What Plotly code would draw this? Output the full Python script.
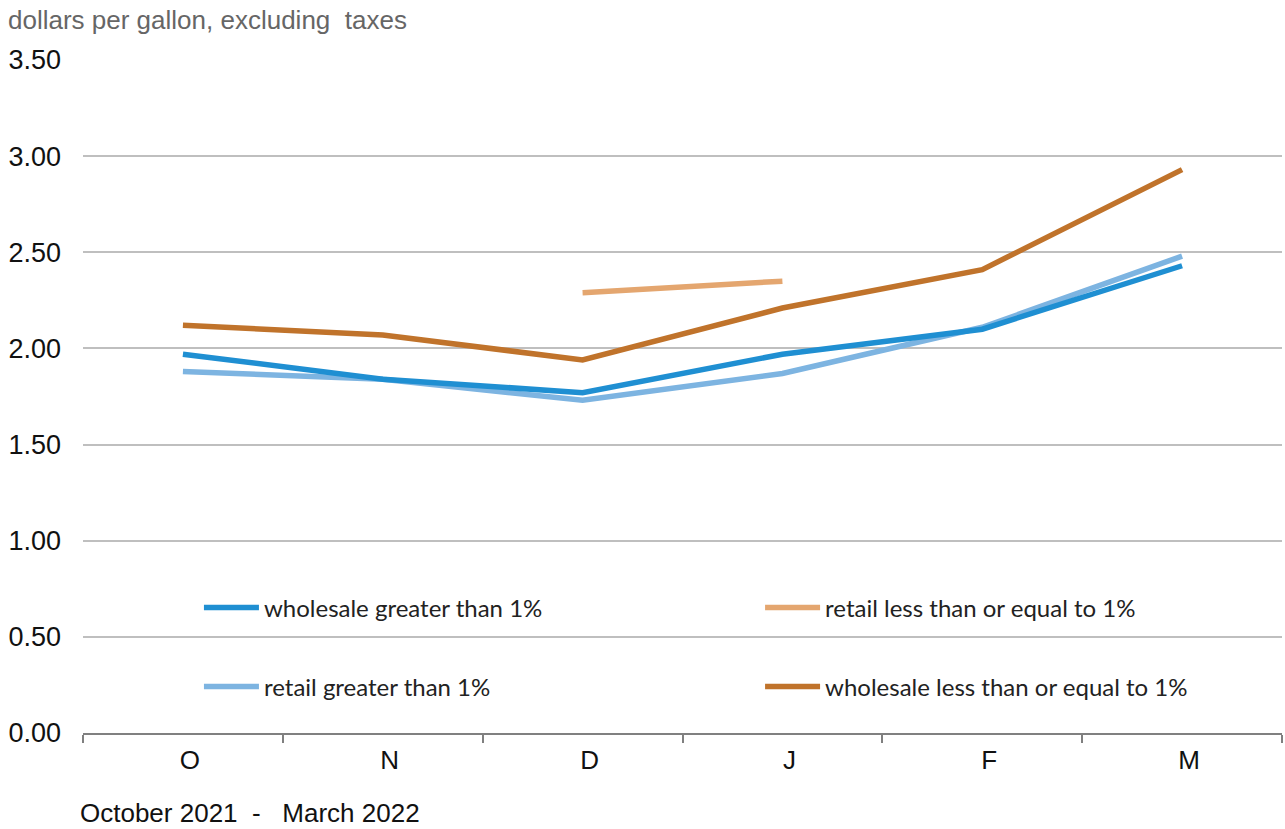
import plotly.graph_objects as go

months = ["O", "N", "D", "J", "F", "M"]
wholesale_gt1 = [1.97, 1.84, 1.77, 1.97, 2.10, 2.43]
retail_gt1 = [1.88, 1.84, 1.73, 1.87, 2.11, 2.48]
wholesale_le1 = [2.12, 2.07, 1.94, 2.21, 2.41, 2.93]
retail_le1 = [None, None, 2.29, 2.35, None, None]
y_ticks = [0, 0.5, 1.0, 1.5, 2.0, 2.5, 3.0, 3.5]
y_ticklabels = ["0.00", "0.50", "1.00", "1.50", "2.00", "2.50", "3.00", "3.50"]

c_wgt = "#1F8FD2"
c_rgt = "#7DB4E1"
c_wle = "#C0732B"
c_rle = "#E4A66F"

fig = go.Figure()
fig.add_trace(go.Scatter(x=months, y=retail_gt1, name="retail greater than 1%",
                         mode="lines", line=dict(color=c_rgt, width=5.5), legend="legend3"))
fig.add_trace(go.Scatter(x=months, y=wholesale_gt1, name="wholesale greater than 1%",
                         mode="lines", line=dict(color=c_wgt, width=5.5), legend="legend"))
fig.add_trace(go.Scatter(x=months, y=wholesale_le1, name="wholesale less than or equal to 1%",
                         mode="lines", line=dict(color=c_wle, width=5.5), legend="legend4"))
fig.add_trace(go.Scatter(x=months, y=retail_le1, name="retail less than or equal to 1%",
                         mode="lines", line=dict(color=c_rle, width=5.5), legend="legend2",
                         connectgaps=False))

legfont = dict(family="Lato, Noto Sans, sans-serif", size=24, color="#222222")
def leg(x, y):
    return dict(x=x, y=y, xanchor="left", yanchor="middle", font=legfont,
                bgcolor="rgba(0,0,0,0)", itemwidth=55, orientation="v")

fig.update_layout(
    width=1285, height=829,
    margin=dict(l=83, r=3, t=60, b=96, autoexpand=False),
    paper_bgcolor="white", plot_bgcolor="white",
    font=dict(family="Liberation Sans, Arial, sans-serif", size=26, color="#111111"),
    legend=leg(0.0967, 0.1857),
    legend2=leg(0.5647, 0.1857),
    legend3=leg(0.0967, 0.0684),
    legend4=leg(0.5647, 0.0684),
    xaxis=dict(type="category", range=[-0.5, 5.5], showgrid=False, automargin=False,
               showline=True, linecolor="#808080", linewidth=2,
               ticks="outside", tickson="boundaries", ticklen=8, tickcolor="#808080",
               tickwidth=2, tickfont=dict(size=26, color="#111111"),
               ticklabelstandoff=3, ticklabelshift=7),
    yaxis=dict(range=[0, 3.5], tickvals=y_ticks, ticktext=y_ticklabels, automargin=False,
               showgrid=True, gridcolor="#BFBFBF", gridwidth=2, zeroline=False,
               showline=False, ticks="", tickfont=dict(size=27, color="#111111"),
               ticklabelstandoff=21),
    showlegend=True,
)

fig.add_annotation(text="dollars per gallon, excluding  taxes", xref="paper", yref="paper",
                   x=-0.0643, y=1.0, xanchor="left", yanchor="middle", yshift=40,
                   showarrow=False, font=dict(size=26, color="#666666"))
fig.add_annotation(text="October 2021  -   March 2022", xref="paper", yref="paper",
                   x=-0.0042, y=0, xanchor="left", yanchor="middle", yshift=-80,
                   showarrow=False, font=dict(size=26, color="#111111"))

fig.write_html("out.html", config={"displayModeBar": False},
               post_script="document.body.style.margin='0';document.body.style.overflow='hidden';")
